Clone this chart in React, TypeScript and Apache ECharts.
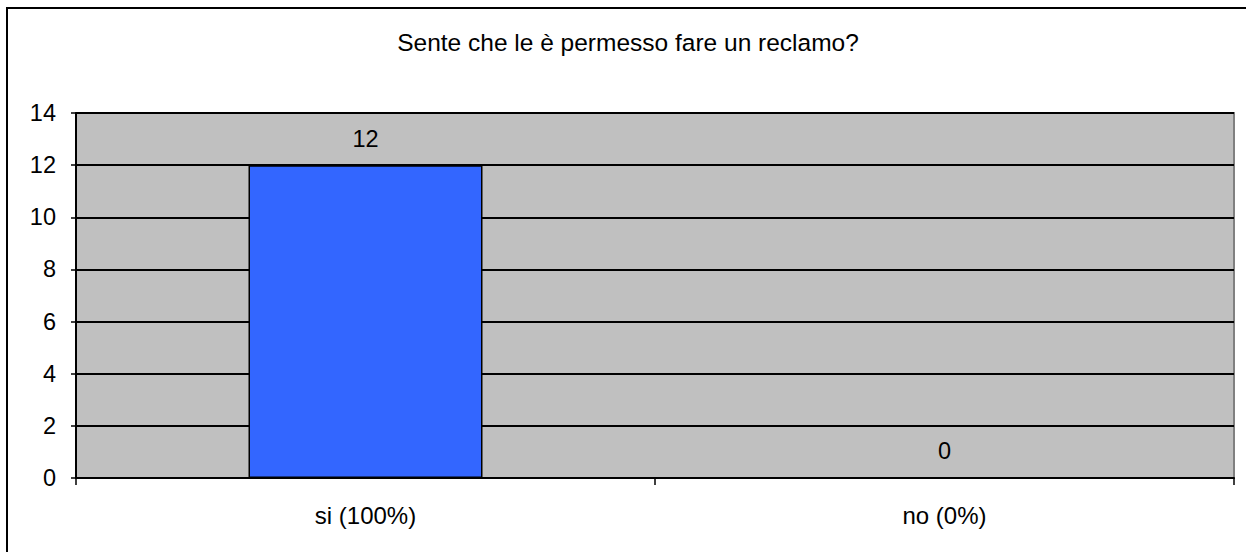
import React, { useEffect, useRef } from "react";
import * as echarts from "echarts";

const TITLE = "Sente che le è permesso fare un reclamo?";
const categories = ["si (100%)", "no (0%)"];
const values = [12, 0];
const yMin = 0;
const yMax = 14;
const yInterval = 2;

const FONT = "'Liberation Sans', Arial, sans-serif";

export default function App() {
  const ref = useRef<HTMLDivElement>(null);
  useEffect(() => {
    document.body.style.margin = "0";
    const chart = echarts.init(ref.current!, null, { renderer: "svg" });
    chart.setOption({
      animation: false,
      backgroundColor: "#ffffff",
      textStyle: { fontFamily: FONT },
      graphic: [
        {
          type: "rect",
          shape: { x: 7, y: 8, width: 1300, height: 700 },
          style: { fill: "none", stroke: "#000", lineWidth: 2 },
          silent: true,
        },
        {
          type: "text",
          x: 628,
          y: 42,
          style: {
            text: TITLE,
            fill: "#000",
            font: `24.5px ${FONT}`,
            textAlign: "center",
            textVerticalAlign: "middle",
          },
        },
      ],
      grid: {
        left: 76,
        right: 12,
        top: 113,
        bottom: 74,
        show: true,
        backgroundColor: "#C0C0C0",
        borderColor: "#808080",
        borderWidth: 2,
      },
      xAxis: {
        type: "category",
        data: categories,
        boundaryGap: true,
        axisLine: { show: true, lineStyle: { color: "#000", width: 2 } },
        axisTick: { show: true, length: 7, alignWithLabel: false, lineStyle: { color: "#000", width: 1.5 } },
        axisLabel: { color: "#000", fontSize: 24, fontFamily: FONT, margin: 25 },
        splitLine: { show: false },
      },
      yAxis: {
        type: "value",
        min: yMin,
        max: yMax,
        interval: yInterval,
        axisLine: { show: true, lineStyle: { color: "#000", width: 2 } },
        axisTick: { show: true, length: 5, lineStyle: { color: "#000", width: 1.5 } },
        axisLabel: { color: "#000", fontSize: 23.5, fontFamily: FONT, margin: 20 },
        splitLine: { show: true, lineStyle: { color: "#000", width: 2 } },
      },
      series: [
        {
          type: "bar",
          data: values,
          barWidth: 234,
          itemStyle: { color: "#3366FF", borderColor: "#000", borderWidth: 1.5 },
          label: {
            show: true,
            position: "top",
            distance: 14,
            color: "#000",
            fontSize: 23.5,
            fontFamily: FONT,
          },
        },
      ],
    });
    return () => chart.dispose();
  }, []);
  return <div ref={ref} style={{ width: 1246, height: 552 }} />;
}
